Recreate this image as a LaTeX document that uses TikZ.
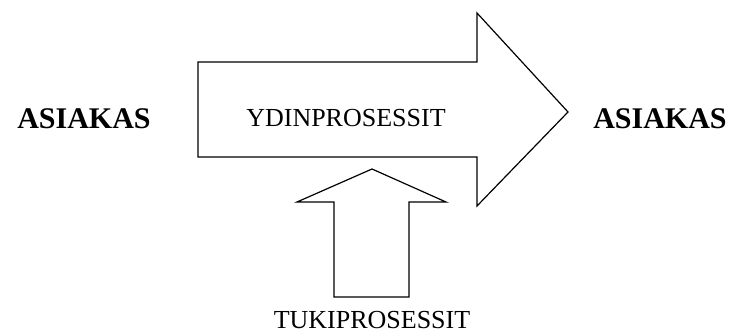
\documentclass[tikz,border=0pt]{standalone}
\usepackage{fontspec}
\setmainfont{Liberation Serif}
\begin{document}
\begin{tikzpicture}[x=1pt,y=-1pt,
  arrowshape/.style={draw=black, line width=1.2pt, line join=miter, fill=white},
  label/.style={inner sep=0pt, font=\fontsize{26}{30}\selectfont},
  boldlabel/.style={inner sep=0pt, font=\fontsize{30}{34}\selectfont\bfseries}]
\useasboundingbox (0,0) rectangle (731,336);
% main process arrow
\draw[arrowshape] (198,62) -- (477,62) -- (477,13) -- (568,112) -- (477,206)
  -- (477,157) -- (198,157) -- cycle;
% support process arrow
\draw[arrowshape] (334,297) -- (334,202) -- (297,202) -- (372,169) -- (446,202)
  -- (409,202) -- (409,297) -- cycle;
\node[label] (core) at (346,118) {YDINPROSESSIT};
\node[label] (support) at (372,320) {TUKIPROSESSIT};
\node[boldlabel] (custin) at (84,119) {ASIAKAS};
\node[boldlabel] (custout) at (660,119) {ASIAKAS};
\end{tikzpicture}
\end{document}
